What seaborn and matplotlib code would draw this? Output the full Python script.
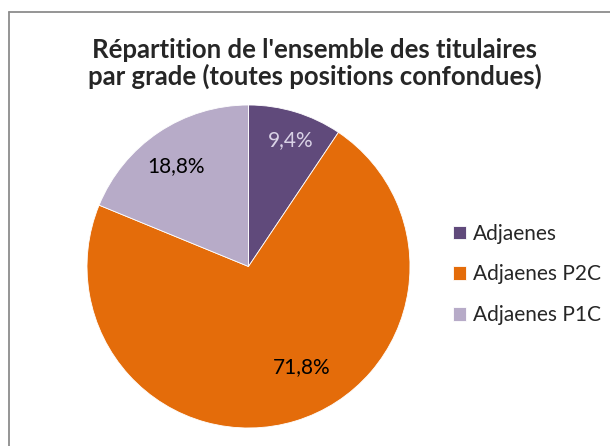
import matplotlib
matplotlib.use("Agg")
import matplotlib.pyplot as plt
import seaborn as sns
from matplotlib.lines import Line2D

# data
grades = ['Adjaenes', 'Adjaenes P2C', 'Adjaenes P1C']
shares = [9.4, 71.8, 18.8]
colors = ['#604A7B', '#E46C0A', '#B7ABC8']
label_colors = ['#D9D2E6', 'black', 'black']
# where Excel put the percentage labels (pie units, radius = 1)
label_xy = [(0.26, 0.78), (0.33, -0.62), (-0.45, 0.62)]

sns.set_theme(style='white')
plt.rcParams['font.family'] = ['Lato', 'DejaVu Sans']

W, H = 610, 446
fig = plt.figure(figsize=(W / 100, H / 100), dpi=100)
fig.patch.set_facecolor('white')

# pie axes placed in pixels: center (248.5, 266.5), radius 161.5
cx, cy, r = 248.5, 266.5, 161.5
ax = fig.add_axes([(cx - r) / W, (H - cy - r) / H, 2 * r / W, 2 * r / H])
wedges, texts, autotexts = ax.pie(
    shares, colors=sns.color_palette(colors), startangle=90, counterclock=False,
    autopct=lambda p: f'{p:.1f}%'.replace('.', ','), pctdistance=0.78,
    wedgeprops=dict(linewidth=0.6, edgecolor='white'),
    textprops=dict(fontsize=15))
for t, c, xy in zip(autotexts, label_colors, label_xy):
    t.set_color(c)
    t.set_position(xy)
ax.set_xlim(-1, 1)
ax.set_ylim(-1, 1)
ax.set_aspect('equal')
ax.axis('off')

fig.text(315 / W, 1 - 63.5 / H,
         "Répartition de l'ensemble des titulaires\npar grade (toutes positions confondues)",
         ha='center', va='center', fontsize=18.5, fontweight='bold', linespacing=1.12)

fig.legend(wedges, grades, loc='center left', bbox_to_anchor=(434 / W, 1 - 274.5 / H),
           frameon=False, fontsize=15, handlelength=0.62, handleheight=0.62,
           handletextpad=0.35, labelspacing=1.0)

# chart border (left and top edges visible)
grey = '#8C8C8C'
fig.add_artist(Line2D([9 / W, 9 / W], [0, 1 - 12 / H], color=grey, lw=1.3))
fig.add_artist(Line2D([9 / W, 1], [1 - 12 / H, 1 - 12 / H], color=grey, lw=1.3))

fig.savefig('out.png', dpi=100, facecolor='white')
